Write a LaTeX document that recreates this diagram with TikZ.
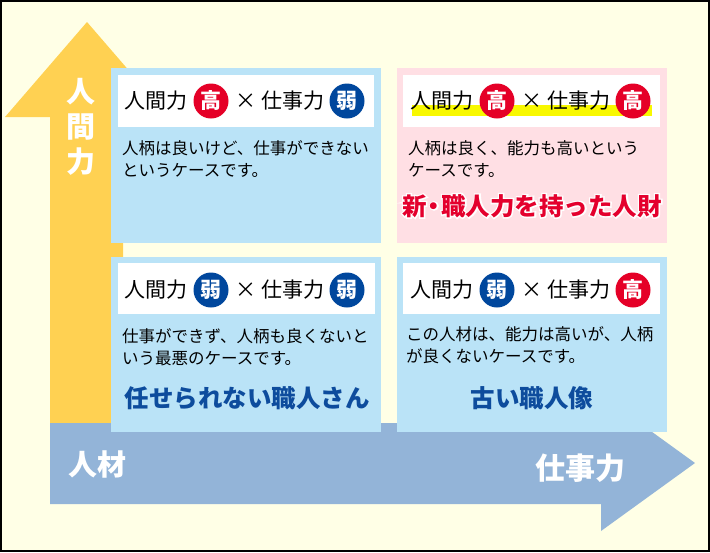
\documentclass[tikz,border=0pt]{standalone}
\usepackage{fontspec}
\setmainfont{Noto Sans CJK JP}
\newfontfamily\halofont{Noto Sans CJK JP}[BoldFeatures={FakeBold=11}]
\usepackage{xcolor}
\usepackage{tikz}

\definecolor{bgyellow}{HTML}{FFFFE6}
\definecolor{arrowyellow}{HTML}{FFD152}
\definecolor{arrowblue}{HTML}{93B4D8}
\definecolor{boxblue}{HTML}{BAE3F7}
\definecolor{boxpink}{HTML}{FFDFE4}
\definecolor{badgered}{HTML}{E50027}
\definecolor{badgeblue}{HTML}{00479D}
\definecolor{titleblue}{HTML}{0D4C9D}
\definecolor{titlered}{HTML}{E4002D}
\definecolor{hilite}{HTML}{F8F800}

% one header row: prefix, badge style, badge text, badge style, badge text
\newcommand{\headrow}[5]{%
  \node[headtext] (#1jin) at (45,33) {人間力};
  \node[#2] (#1b1) at (100,33) {#3};
  \node[headtext] (#1x) at (135,33) {×};
  \node[headtext] (#1shigoto) at (182,33) {仕事力};
  \node[#4] (#1b2) at (236,33) {#5};
}
\newcommand{\newtitle}{新\kern-5pt・\kern-5pt職人力を持った人財}

\begin{document}
\begin{tikzpicture}[x=1pt,y=-1pt,
  badge/.style={circle,inner sep=0,minimum size=35,text=white,font=\fontsize{21}{21}\selectfont\bfseries},
  hi/.style={badge,fill=badgered},
  lo/.style={badge,fill=badgeblue},
  headtext/.style={inner sep=0,font=\fontsize{21}{21}\selectfont},
  desc/.style={anchor=north west,inner sep=0,align=left,font=\fontsize{16.5}{22.5}\selectfont},
  title/.style={inner sep=0,font=\fontsize{24.5}{24.5}\selectfont\bfseries},
  axis/.style={inner sep=0,text=white,font=\fontsize{29}{35}\selectfont\bfseries}]
% Background
\fill[bgyellow] (0,0) rectangle (710,552);
% Vertical arrow
\fill[arrowyellow] (50,423) -- (50,117) -- (5,117) -- (87,22) -- (169,117) -- (123,117) -- (123,423) -- cycle;
\node[axis,align=center] (ningen) at (81,127) {人\\間\\力};
% Horizontal arrow
\fill[arrowblue] (50,423) -- (601,423) -- (601,395) -- (695,463) -- (601,531) -- (601,504) -- (50,504) -- cycle;
\node[axis] (jinzai) at (97,464) {人材};
\node[axis,font=\fontsize{30}{30}\selectfont\bfseries] (shigoto) at (580,468) {仕事力};

% Upper left
\begin{scope}[shift={(111,68)}]
\fill[boxblue] (0,0) rectangle (270,175);
\fill[white] (7,7) rectangle (263,59);
\headrow{ul}{hi}{高}{lo}{弱}
\node[desc] (uldesc) at (11,72) {人柄は良いけど、仕事ができない\\というケースです。};
\end{scope}

% Upper right
\begin{scope}[shift={(397,68)}]
\fill[boxpink] (0,0) rectangle (270,175);
\fill[white] (6,7) rectangle (263,59);
\fill[hilite] (15,37) rectangle (255,48);
\headrow{ur}{hi}{高}{hi}{高}
\node[desc] (urdesc) at (11,72) {人柄は良く、能力も高いという\\ケースです。};
\node[title,text=white,font=\fontsize{24.5}{24.5}\halofont\bfseries] (urhalo) at (135,138) {\newtitle};
\node[title,text=titlered] (urtitle) at (urhalo) {\newtitle};
\end{scope}

% Lower left
\begin{scope}[shift={(111,257)}]
\fill[boxblue] (0,0) rectangle (270,175);
\fill[white] (7,6) rectangle (264,57);
\headrow{ll}{lo}{弱}{lo}{弱}
\node[desc] (lldesc) at (11,71) {仕事ができず、人柄も良くないと\\いう最悪のケースです。};
\node[title,text=titleblue] (lltitle) at (136,141) {任せられない職人さん};
\end{scope}

% Lower right
\begin{scope}[shift={(397,257)}]
\fill[boxblue] (0,0) rectangle (270,175);
\fill[white] (6,6) rectangle (263,57);
\headrow{lr}{lo}{弱}{hi}{高}
\node[desc] (lrdesc) at (9,69) {この人材は、能力は高いが、人柄\\が良くないケースです。};
\node[title,text=titleblue] (lrtitle) at (135,141) {古い職人像};
\end{scope}

% Frame
\draw[black,line width=2] (1,1) rectangle (709,551);
\end{tikzpicture}
\end{document}
